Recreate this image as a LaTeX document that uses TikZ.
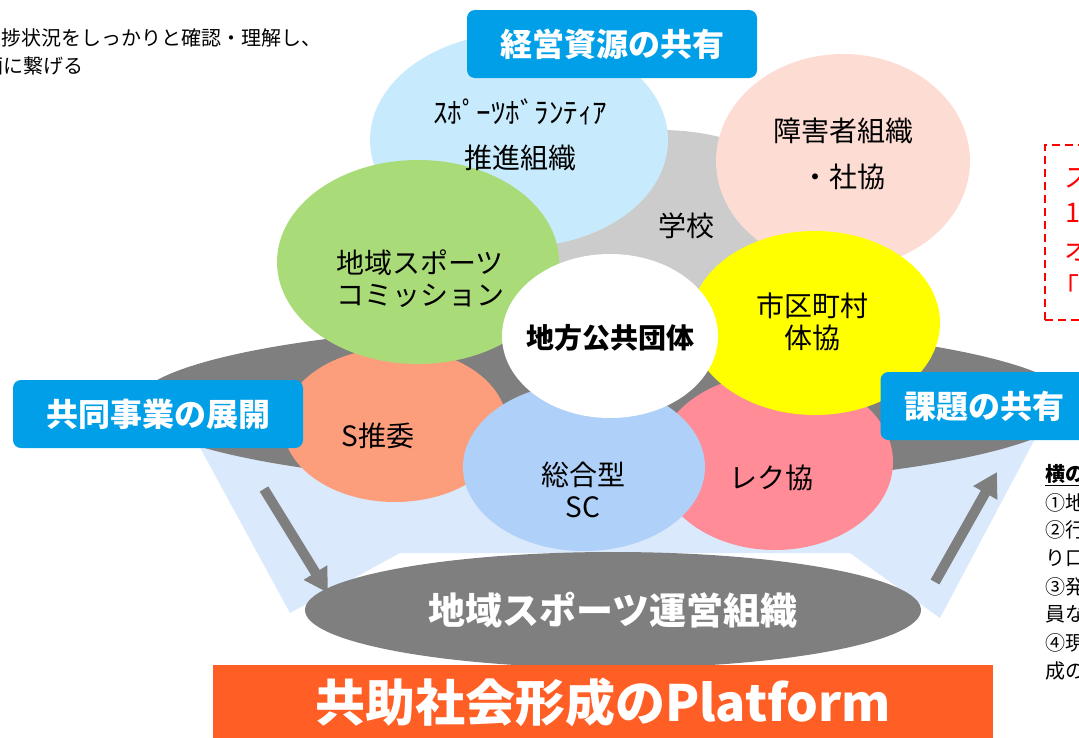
\documentclass[tikz,border=0pt]{standalone}
\usepackage{fontspec}
\setmainfont{Noto Sans CJK JP}
\usetikzlibrary{shapes.geometric,arrows.meta}
\definecolor{cvol}{HTML}{C7EBFC}
\definecolor{cpeach}{HTML}{FDDDD3}
\definecolor{cschool}{HTML}{CCCCCC}
\definecolor{cgreen}{HTML}{A9DC79}
\definecolor{cyellow}{HTML}{FFFF00}
\definecolor{csalmon}{HTML}{FC9E7C}
\definecolor{cpink}{HTML}{FF8C97}
\definecolor{csc}{HTML}{AFD0F8}
\definecolor{cbg}{HTML}{DAE9FC}
\definecolor{ctag}{HTML}{009FE8}
\definecolor{cdark}{HTML}{7F7F7F}
\definecolor{corange}{HTML}{FF5E24}
\definecolor{cred}{HTML}{FF0000}
\begin{document}
\begin{tikzpicture}[x=1pt,y=-1pt,
  blob/.style={ellipse, inner sep=0pt, draw=none},
  lbl/.style={font=\fontsize{28}{32}\selectfont, align=center, text=black, inner sep=0pt},
  tag/.style={fill=ctag, rounded corners=8pt, text=white, inner sep=0pt,
    font=\bfseries\fontsize{32}{36}\selectfont},
  bigarrow/.style={draw=cdark, line width=10pt,
    -{Triangle[length=24pt,width=26pt]}},
  note/.style={font=\fontsize{20}{24}\selectfont, inner sep=0pt, anchor=west},
  rednote/.style={font=\fontsize{27}{30}\selectfont, text=cred, inner sep=0pt, anchor=west}
]
\useasboundingbox (0,0) rectangle (1079,737);
\clip (0,0) rectangle (1079,737);

% top-left text (cut at the left edge)
\node[note, anchor=east] (tl1) at (322,38) {進捗状況をしっかりと確認・理解し、};
\node[note] (tl2) at (-17,66) {画に繋げる};

% light-blue background band
\fill[cbg] (185,420) -- (1045,420) -- (940,618) -- (850,553) -- (400,553) -- (290,613) -- cycle;

% big gray base ellipse
\node[blob, fill=cdark, minimum width=940pt, minimum height=164pt] (base) at (605,405) {};

% circles
\node[blob, fill=cschool, minimum width=300pt, minimum height=170pt] (school) at (660,215) {};
\node[blob, fill=cvol, minimum width=298pt, minimum height=214pt] (vol) at (519,140) {};
\node[blob, fill=cpeach, minimum width=254pt, minimum height=214pt] (shog) at (843,161) {};
\node[blob, fill=csalmon, minimum width=224pt, minimum height=154pt] (ssui) at (395,425) {};
\node[blob, fill=cpink, minimum width=236pt, minimum height=176pt] (rec) at (775,462) {};
\node[blob, fill=cgreen, minimum width=282pt, minimum height=204pt] (comm) at (418,262) {};
\node[blob, fill=cyellow, minimum width=250pt, minimum height=184pt] (city) at (815,323) {};
\node[blob, fill=csc, minimum width=242pt, minimum height=168pt] (sc) at (584,467) {};
\node[blob, fill=white, minimum width=216pt, minimum height=164pt] (gov) at (610,336) {};

% circle labels
\node[lbl, font=\fontsize{29}{32}\selectfont] (volT1) at (520,112) {ｽﾎﾟｰﾂﾎﾞﾗﾝﾃｨｱ};
\node[lbl] (volT2) at (520,158) {推進組織};
\node[lbl, font=\fontsize{28}{46}\selectfont] (shogT) at (843,154) {障害者組織\\・社協};
\node[lbl] (schoolT) at (686,226) {学校};
\node[lbl] (commT) at (420,279) {地域スポーツ\\コミッション};
\node[lbl] (cityT) at (812,322) {市区町村\\体協};
\node[lbl, font=\bfseries\fontsize{28}{32}\selectfont] (govT) at (610,338) {地方公共団体};
\node[lbl] (ssuiT) at (378,436) {S推委};
\node[lbl] (scT) at (583,490) {総合型\\SC};
\node[lbl] (recT) at (771,478) {レク協};

% bottom ellipse
\node[blob, fill=cdark, minimum width=616pt, minimum height=116pt,
  text=white, font=\bfseries\fontsize{37}{40}\selectfont] (org) at (613,610) {地域スポーツ運営組織};

% arrows
\coordinate (la1) at (264,489);
\coordinate (la2) at (328,593);
\coordinate (ra1) at (935,582);
\coordinate (ra2) at (997,472);
\draw[bigarrow] (la1) -- (la2);
\draw[bigarrow] (ra1) -- (ra2);

% orange platform bar
\node[fill=corange, minimum width=780pt, minimum height=74pt, inner sep=0pt,
  text=white, font=\bfseries\fontsize{50}{54}\selectfont] (plat) at (603,702) {共助社会形成のPlatform};

% blue tags
\node[tag, minimum width=290pt, minimum height=68pt] (tagA) at (612,44) {経営資源の共有};
\node[tag, minimum width=290pt, minimum height=68pt] (tagB) at (158,414) {共同事業の展開};
\node[tag, minimum width=207pt, minimum height=68pt] (tagC) at (984,406) {課題の共有};

% red dashed note (cut at right)
\draw[cred, line width=2.5pt, dash pattern=on 8pt off 5pt] (1045,320) -- (1045,145) -- (1100,145);
\draw[cred, line width=2.5pt, dash pattern=on 8pt off 5pt] (1045,320) -- (1100,320);
\node[rednote] (r1) at (1064,178) {ス};
\node[rednote] (r2) at (1065,213) {1};
\node[rednote] (r3) at (1064,250) {オ};
\node[rednote] (r4) at (1052,286) {「};

% right side notes (cut at right)
\node[note, font=\bfseries\fontsize{20}{24}\selectfont] (n0) at (1045,475) {\underline{横の}};
\node[note] (n1) at (1045,503) {①地};
\node[note] (n2) at (1045,530) {②行};
\node[note] (n3) at (1045,558) {り口};
\node[note] (n4) at (1045,587) {③発};
\node[note] (n5) at (1045,614) {員な};
\node[note] (n6) at (1045,643) {④現};
\node[note] (n7) at (1045,671) {成の};
\end{tikzpicture}
\end{document}
